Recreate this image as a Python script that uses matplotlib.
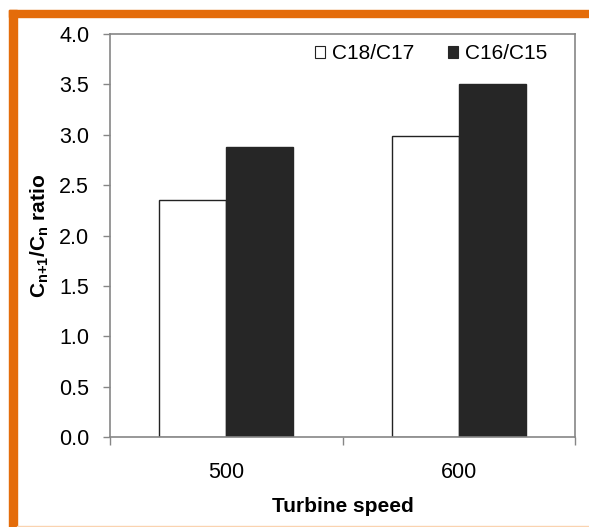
import matplotlib
matplotlib.use("Agg")
import matplotlib.pyplot as plt
import numpy as np
from matplotlib.patches import Rectangle

plt.rcParams['font.family'] = ['Liberation Sans', 'DejaVu Sans']
plt.rcParams['mathtext.fontset'] = 'custom'
plt.rcParams['mathtext.bf'] = 'Liberation Sans:bold'
plt.rcParams['mathtext.rm'] = 'Liberation Sans'

speeds = ['500', '600']
c18_c17 = [2.35, 2.99]
c16_c15 = [2.88, 3.50]
yticks = [0.0, 0.5, 1.0, 1.5, 2.0, 2.5, 3.0, 3.5, 4.0]

orange = '#E46C0A'
spine_col = '#868686'

fig = plt.figure(figsize=(5.89, 5.27), dpi=100)
# orange frame around the figure (top and left)
fig.patches.append(Rectangle((9/589, 0), 8/589, 1 - 10/527, transform=fig.transFigure,
                             color=orange, zorder=0))
fig.patches.append(Rectangle((9/589, 1 - 17/527), 1 - 9/589, 7/527, transform=fig.transFigure,
                             color=orange, zorder=0))
fig.patches.append(Rectangle((17/589, 0), 1, 1.5/527, transform=fig.transFigure,
                             color='#FAD3B0', zorder=0))

ax = fig.add_axes([110/589, 90/527, 465/589, 403/527])

x = np.arange(len(speeds))
w = 0.288
ax.bar(x - w/2, c18_c17, w, color='white', edgecolor='#222222', linewidth=1.0, label='C18/C17')
ax.bar(x + w/2, c16_c15, w, color='#262626', edgecolor='#262626', linewidth=1.0, label='C16/C15')

ax.set_xlim(-0.5, 1.5)
ax.set_ylim(0, 4.0)
ax.set_yticks(yticks)
ax.set_yticklabels(['%.1f' % t for t in yticks], fontsize=15.5)
ax.tick_params(axis='y', direction='out', length=5, width=1, color=spine_col, pad=10)

ax.set_xticks([-0.5, 0.5, 1.5])
ax.set_xticklabels([])
ax.tick_params(axis='x', which='major', direction='out', length=6, width=1, color=spine_col)
ax.set_xticks(x, minor=True)
ax.set_xticklabels(speeds, minor=True, fontsize=15.5)
ax.tick_params(axis='x', which='minor', length=0, pad=18)

for s in ax.spines.values():
    s.set_color(spine_col)
    s.set_linewidth(1.2)

ax.set_xlabel('Turbine speed', fontsize=15, fontweight='bold', labelpad=10)
ax.set_ylabel(r'$\mathbf{C_{n{+}1}/C_n}$ ratio', fontsize=15, fontweight='bold', labelpad=6)

leg = ax.legend(loc='upper right', bbox_to_anchor=(0.968, 1.005), ncol=2, frameon=False,
                fontsize=15, handlelength=0.48, handleheight=0.48, handletextpad=0.35,
                columnspacing=1.6, borderaxespad=0.2)
for h in leg.legend_handles:
    h.set_linewidth(0.8)

fig.savefig('out.png', dpi=100, facecolor='white')
